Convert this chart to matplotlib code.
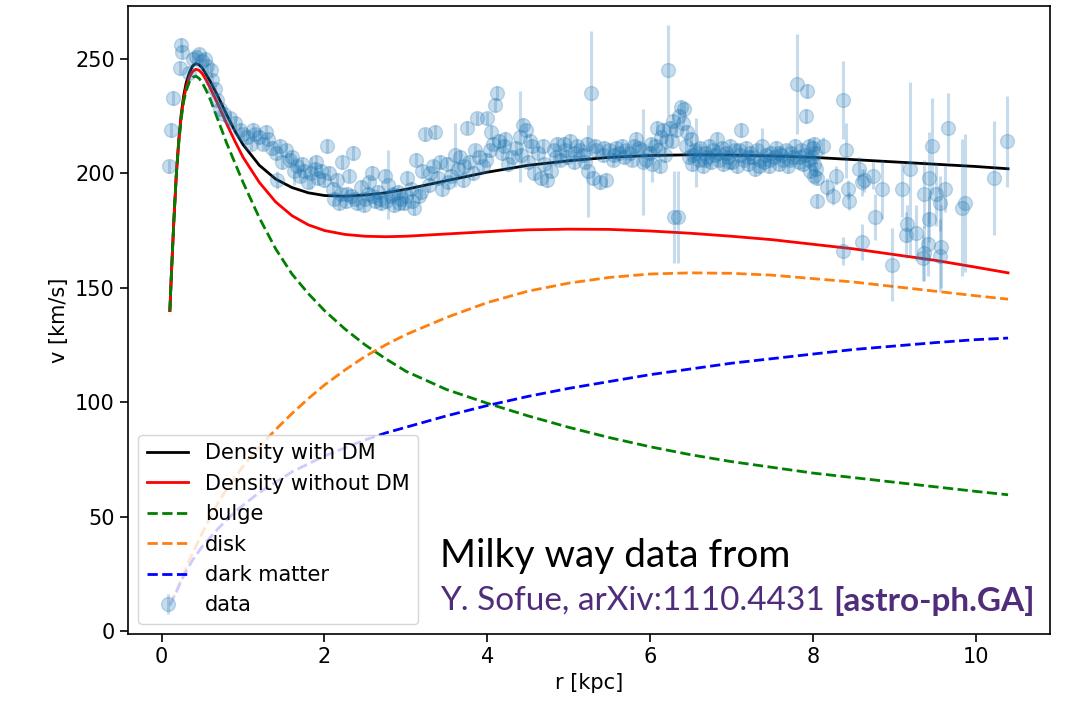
import numpy as np
import matplotlib.pyplot as plt

plt.rcParams['font.size'] = 15

# model curves
r_model = [0.10, 0.12, 0.15, 0.18, 0.21, 0.24, 0.27, 0.30, 0.34, 0.38, 0.42, 0.46,
           0.50, 0.55, 0.60, 0.70, 0.80, 0.90, 1.0, 1.2, 1.4, 1.6, 1.8, 2.0, 2.25,
           2.5, 2.75, 3.0, 3.5, 4.0, 4.5, 5.0, 5.5, 6.0, 6.5, 7.0, 7.5, 8.0, 8.5,
           9.0, 9.5, 10.0, 10.4]
v_total = [140, 157, 180, 200, 215, 226, 234, 239.5, 244, 247, 248, 247.5,
           246, 243, 240, 233, 225.5, 218.5, 212.5, 203.5, 197.5, 193.8, 191.5, 190.3, 190,
           190.5, 191.5, 193, 196.8, 200.5, 203.5, 205.5, 207, 207.8, 208.1, 208, 207.6, 207, 206,
           205, 204, 203, 202]
v_nodm = [140, 157, 180, 200, 214, 225, 232.5, 237.5, 242, 244.5, 245.5, 245,
          243.5, 240.5, 237, 229.5, 221.5, 214, 207, 196, 187.5, 181.5, 177.5, 175, 173.3,
          172.5, 172.3, 172.5, 173.5, 174.5, 175.3, 175.6, 175.5, 174.8, 173.8, 172.5, 171, 169, 167,
          164.5, 162, 159, 156.5]
v_bulge = [140, 157, 180, 200, 213.5, 224, 231.5, 236, 240, 242, 242.5, 241.5,
           239.5, 236, 232, 222.5, 213, 204.5, 196, 180.5, 167, 156, 147.5, 140, 132,
           125, 119, 113.5, 105.5, 99.5, 94, 89, 84.5, 80.5, 77, 74, 71.5, 69, 67,
           65, 63, 61, 59.5]
v_disk = [12, 13, 15, 17.5, 20, 22.5, 25, 27.5, 31, 34, 37, 40,
          43, 46.5, 50, 56.5, 62, 67, 72, 80.5, 88, 95, 101.5, 107.5, 114,
          120, 125, 129.5, 137, 143.5, 148.5, 152, 154.5, 156, 156.5, 156.3, 155.5, 154, 152.5,
          150.5, 148.5, 146.5, 145]
v_dm = [11, 12.5, 15, 17, 19.5, 22, 24, 26, 28.5, 31, 33, 35,
        37, 39, 41, 45, 48.5, 52, 55, 60.5, 65, 69.5, 73, 76.5, 80,
        83.5, 86.5, 89, 94, 98.5, 102.5, 106, 109, 112, 114.5, 117, 119, 121, 123,
        124.5, 126, 127.3, 128]

# rotation curve data points (Sofue 2011)
r_data = [
    0.09, 0.12, 0.14, 0.22, 0.24, 0.25, 0.33, 0.38, 0.42, 0.46, 0.50, 0.53, 0.56, 0.60,
    0.62, 0.66, 0.68, 0.72, 0.76,
    0.84, 0.90, 0.96, 1.00, 1.05, 1.10, 1.15, 1.20, 1.25, 1.30, 1.35, 1.40, 1.42, 1.48,
    1.53, 1.58, 1.62, 1.66, 1.70, 1.75, 1.80, 1.84, 1.88, 1.92, 1.96, 2.00,
    2.03, 2.06, 2.10, 2.15, 2.20, 2.22, 2.26, 2.30, 2.33, 2.35, 2.40, 2.45, 2.50, 2.55,
    2.58, 2.62, 2.66, 2.70, 2.74, 2.78, 2.82, 2.86, 2.90, 2.94, 2.98, 3.02, 3.06, 3.10,
    3.13, 3.16, 3.20,
    3.24, 3.28, 3.33, 3.36, 3.40, 3.45, 3.50, 3.55, 3.60, 3.64, 3.70, 3.75, 3.78, 3.82,
    3.87, 3.90, 3.95, 4.00, 4.03, 4.07, 4.10, 4.12, 4.15, 4.18, 4.22, 4.26,
    4.30, 4.35, 4.40, 4.44, 4.48, 4.50, 4.55, 4.58, 4.62, 4.66, 4.70, 4.74, 4.78,
    4.82, 4.86, 4.90, 4.94, 4.98, 5.02, 5.06, 5.10, 5.14, 5.18, 5.22, 5.24, 5.28, 5.30,
    5.34, 5.38, 5.42, 5.46, 5.50, 5.54,
    5.58, 5.62, 5.66, 5.70, 5.75, 5.80, 5.83, 5.87, 5.91, 5.95, 6.00, 6.03, 6.06, 6.08,
    6.12, 6.14, 6.16, 6.20, 6.22, 6.24, 6.27, 6.28, 6.30, 6.34, 6.32, 6.36, 6.38, 6.40,
    6.42, 6.44, 6.46, 6.48, 6.50, 6.52, 6.55, 6.57, 6.60, 6.62, 6.65, 6.68, 6.70, 6.72,
    6.75, 6.78, 6.80, 6.82, 6.85, 6.88, 6.90, 6.93, 6.96, 6.98, 7.01, 7.04, 7.07, 7.10,
    7.12, 7.15, 7.18, 7.20, 7.23, 7.26, 7.29, 7.32, 7.35, 7.38, 7.40, 7.43, 7.46, 7.49,
    7.52, 7.55, 7.58, 7.61, 7.64, 7.67, 7.70, 7.73, 7.76, 7.78, 7.81, 7.83, 7.86, 7.88,
    7.90, 7.92, 7.93, 7.95, 7.97, 7.99, 8.00, 8.01, 8.02, 8.03, 8.04, 8.05,
    8.05, 8.12, 8.17, 8.25, 8.29, 8.37, 8.37, 8.41, 8.43, 8.45, 8.57, 8.60, 8.61, 8.63,
    8.74, 8.76, 8.85, 8.97, 9.10, 9.15, 9.16, 9.19, 9.27, 9.35, 9.37, 9.37, 9.42, 9.43,
    9.43, 9.47, 9.52, 9.56, 9.56, 9.58, 9.62, 9.66, 9.83, 9.87, 10.23, 10.39]
v_data = [
    203, 219, 233, 246, 256, 253, 244, 250, 251, 252, 249, 250, 247, 245,
    241, 237, 232, 228, 226,
    224, 222, 219, 217, 216, 213, 217, 216, 213, 215, 211, 209, 197, 205,
    210, 206, 201, 203, 199, 201, 196, 200, 202, 198, 201, 197,
    212, 200, 193, 197, 191, 205, 188, 199, 190, 209, 187, 194, 189, 196,
    200, 188, 192, 187, 199, 195, 190, 186, 192, 189, 187, 198, 193, 185,
    206, 190, 201,
    217, 195, 203, 218, 198, 193, 204, 199, 208, 202, 197, 220, 205, 200,
    224, 207, 203, 224, 210, 213, 230, 235, 214, 209, 215, 204,
    207, 211, 216, 221, 219, 205, 212, 200, 209, 198, 204, 197, 201,
    210, 213, 206, 213, 207, 214, 205, 212, 210, 208, 213, 201, 235, 198,
    210, 196, 208, 197, 210, 206,
    211, 209, 212, 210, 209, 212, 215, 211, 205, 206, 209, 204, 212, 220,
    203, 216, 219, 214, 245, 220, 214, 223, 181, 181, 219, 225, 229, 222,
    228, 212, 218, 207, 215, 204, 210, 209, 206, 211, 203, 209, 207, 212,
    205, 210, 208, 215, 206, 211, 204, 209, 207, 212, 205, 210, 203, 208,
    219, 206, 211, 204, 209, 207, 202, 210, 206, 212, 205, 208, 203, 209,
    207, 211, 204, 208, 206, 210, 203, 209, 207, 212, 239, 205, 210, 204,
    208, 225, 236, 206, 201, 207, 211, 199, 204, 209, 202, 198,
    188, 212, 194, 190, 199, 232, 166, 210, 193, 188, 202, 170, 196, 197,
    199, 181, 193, 160, 193, 173, 178, 202, 174, 163, 165, 191, 169, 198,
    180, 212, 191, 187, 164, 168, 193, 220, 185, 187, 198, 214]
v_err = [
    3, 3, 3, 3, 3, 3, 3, 3, 3, 3, 3, 3, 3, 3,
    3, 3, 3, 3, 3,
    3, 3, 3, 3, 3, 3, 3, 3, 3, 3, 3, 3, 4, 3,
    3, 3, 6, 3, 3, 3, 3, 7, 3, 3, 3, 3,
    3, 3, 3, 3, 3, 3, 3, 3, 3, 3, 3, 3, 3, 3,
    3, 3, 3, 3, 3, 15, 3, 3, 3, 3, 3, 3, 3, 3,
    3, 3, 3,
    3, 3, 3, 3, 3, 3, 3, 3, 14, 3, 3, 3, 3, 3,
    3, 3, 3, 3, 3, 3, 3, 3, 3, 3, 3, 3,
    3, 3, 20, 3, 3, 3, 3, 3, 3, 3, 3, 3, 3,
    3, 3, 3, 3, 3, 3, 3, 3, 3, 3, 3, 20, 27, 3,
    3, 3, 3, 3, 3, 3,
    3, 3, 3, 3, 3, 3, 3, 3, 23, 3, 3, 8, 3, 3,
    3, 3, 3, 3, 20, 3, 3, 3, 20, 20, 3, 3, 3, 3,
    3, 3, 3, 3, 3, 3, 3, 15, 3, 3, 3, 3, 3, 3,
    3, 3, 3, 3, 3, 3, 3, 3, 3, 3, 3, 3, 3, 3,
    3, 3, 3, 3, 3, 3, 3, 3, 3, 8, 3, 3, 3, 3,
    3, 3, 3, 3, 3, 3, 3, 3, 3, 3, 22, 3, 3, 3,
    3, 3, 3, 3, 3, 3, 3, 3, 3, 3, 3, 3,
    3, 4, 4, 4, 4, 17, 6, 12, 4, 4, 5, 8, 6, 5,
    6, 10, 13, 16, 12, 10, 8, 38, 12, 10, 12, 15, 14, 20,
    10, 21, 14, 12, 16, 18, 10, 15, 30, 30, 25, 20]

# extra points in the crowded bands
r_band = [1.12, 1.28, 1.45, 1.60, 1.72, 1.90,
          2.12, 2.18, 2.28, 2.38, 2.48, 2.53, 2.60, 2.68, 2.76, 2.84, 2.92, 3.00, 3.08, 3.18,
          3.30, 3.42, 3.52, 3.66, 3.72, 3.85, 3.98, 4.05, 4.20,
          4.42, 4.52, 4.68, 4.84, 4.96, 5.08, 5.20, 5.32, 5.44, 5.56, 5.68, 5.78, 5.90,
          6.01, 6.10, 6.18,
          6.53, 6.67, 6.83, 6.97, 7.09, 7.21, 7.34, 7.47, 7.59, 7.72, 7.84, 7.96, 8.02]
v_band = [219, 218, 212, 207, 204, 205,
          189, 187, 191, 189, 186, 191, 190, 189, 188, 191, 187, 190, 188, 192,
          200, 205, 196, 207, 203, 210, 206, 218, 212,
          208, 214, 212, 207, 210, 209, 205, 212, 211, 208, 207, 206, 210,
          213, 210, 208,
          208, 206, 209, 205, 210, 207, 203, 206, 209, 206, 207, 212, 213]
e_band = [3] * len(r_band)

fig, ax = plt.subplots(figsize=(10.69, 7.03), dpi=100)
fig.subplots_adjust(left=0.1197, right=0.9822, bottom=0.098, top=0.991)

ax.plot(r_model, v_total, color='black', lw=2, label='Density with DM')
ax.plot(r_model, v_nodm, color='red', lw=2, label='Density without DM')
ax.plot(r_model, v_bulge, '--', color='green', lw=2, label='bulge')
ax.plot(r_model, v_disk, '--', color='C1', lw=2, label='disk')
ax.plot(r_model, v_dm, '--', color='blue', lw=2, label='dark matter')
ax.errorbar(r_data + r_band, v_data + v_band, yerr=v_err + e_band, fmt='o',
            color='C0', alpha=0.25, ms=10, elinewidth=2.2, label='data')

ax.set_xlim(-0.415, 10.915)
ax.set_ylim(-1.4, 273)
ax.set_xlabel('r [kpc]')
ax.set_ylabel('v [km/s]')
ax.tick_params(length=6, width=1.2)
for s in ax.spines.values():
    s.set_linewidth(1.2)
ax.legend(loc='lower left')

# slide caption pasted over the plot
t1 = fig.text(0.4115, 0.1935, 'Milky way data from', fontsize=28,
              family='Lato', color='black', va='baseline')
t2 = fig.text(0.4115, 0.1323, 'Y. Sofue, arXiv:1110.4431 ', fontsize=24,
              family='Lato', color='#502D7A', va='baseline')
ax.annotate('[astro-ph.GA]', xy=(1, 0), xycoords=t2, fontsize=24,
            family='Lato', weight='bold', color='#502D7A', va='bottom')

fig.savefig('out.png')
